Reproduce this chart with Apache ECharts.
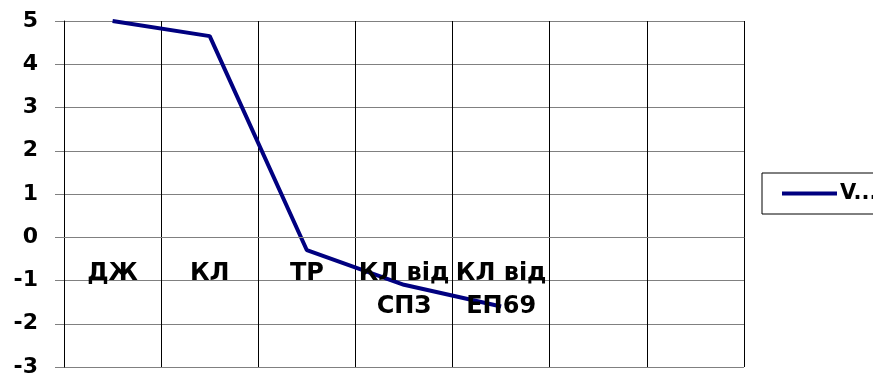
<!DOCTYPE html>
<html>
<head>
<meta charset="utf-8">
<script src="https://cdn.jsdelivr.net/npm/echarts@6/dist/echarts.min.js"></script>
<style>
  html, body { margin: 0; padding: 0; background: #ffffff; }
  #chart { width: 873px; height: 378px; }
</style>
</head>
<body>
<div id="chart"></div>
<script>
// Categories along the horizontal axis (last two columns are empty)
const categories = ['ДЖ', 'КЛ', 'ТР', 'КЛ від\nСПЗ', 'КЛ від\nЕП69', '', ''];
// Series values, one per category
const seriesName = 'V...';
const values = [5.0, 4.65, -0.3, -1.1, -1.6, null, null];
// Value axis range and step
const yMin = -3;
const yMax = 5;
const yStep = 1;

const W = 873, H = 378;
const gridTop = 21, gridBottom = 11;
const plotHeight = H - gridTop - gridBottom;
// The category axis crosses the value axis at zero
const zeroOffset = -plotHeight * (0 - yMin) / (yMax - yMin);

const chart = echarts.init(document.getElementById('chart'), null, { renderer: 'canvas' });

const font = 'DejaVu Sans';

chart.setOption({
  animation: false,
  backgroundColor: '#ffffff',
  grid: { left: 64, right: 129, top: gridTop, bottom: gridBottom, containLabel: false, outerBoundsMode: 'none' },
  legend: {
    show: true,
    left: 762,
    top: 173,
    orient: 'vertical',
    padding: [10, 4, 10, 20],
    itemGap: 0,
    itemWidth: 55,
    itemHeight: 14,
    borderColor: '#000000',
    borderWidth: 1,
    backgroundColor: '#ffffff',
    data: [{ name: seriesName, icon: 'path://M0,6 L55,6 L55,10 L0,10 Z' }],
    textStyle: {
      fontFamily: font, fontWeight: 'bold', fontSize: 21, color: '#000000',
      width: 26, overflow: 'none', padding: [0, 0, 0, -2]
    }
  },
  xAxis: [
    // column dividers (behind the line)
    {
      type: 'category',
      data: categories,
      boundaryGap: true,
      position: 'bottom',
      axisLine: { show: false },
      axisTick: { show: false },
      axisLabel: { show: false },
      splitLine: { show: true, interval: 0, lineStyle: { color: '#000000', width: 1 } }
    },
    // category axis at zero, labels drawn above the line
    {
      type: 'category',
      data: categories,
      boundaryGap: true,
      position: 'bottom',
      offset: zeroOffset,
      z: 10,
      axisLine: { show: true, onZero: false, lineStyle: { color: '#808080', width: 1 } },
      axisTick: { show: false },
      axisLabel: {
        interval: 0,
        margin: 20,
        fontFamily: font, fontWeight: 'bold', fontSize: 24, color: '#000000',
        lineHeight: 33
      },
      splitLine: { show: false }
    }
  ],
  yAxis: {
    type: 'value',
    min: yMin,
    max: yMax,
    interval: yStep,
    axisLine: { show: true, onZero: false, lineStyle: { color: '#000000', width: 1 } },
    axisTick: { show: true, length: 9, lineStyle: { color: '#808080' } },
    axisLabel: {
      margin: 26,
      fontFamily: font, fontWeight: 'bold', fontSize: 22, color: '#000000'
    },
    splitLine: { show: true, lineStyle: { color: '#808080', width: 1 } }
  },
  series: [{
    name: seriesName,
    type: 'line',
    xAxisIndex: 0,
    data: values,
    smooth: false,
    symbol: 'none',
    connectNulls: false,
    lineStyle: { color: '#000080', width: 4 },
    itemStyle: { color: '#000080' }
  }]
});
</script>
</body>
</html>
